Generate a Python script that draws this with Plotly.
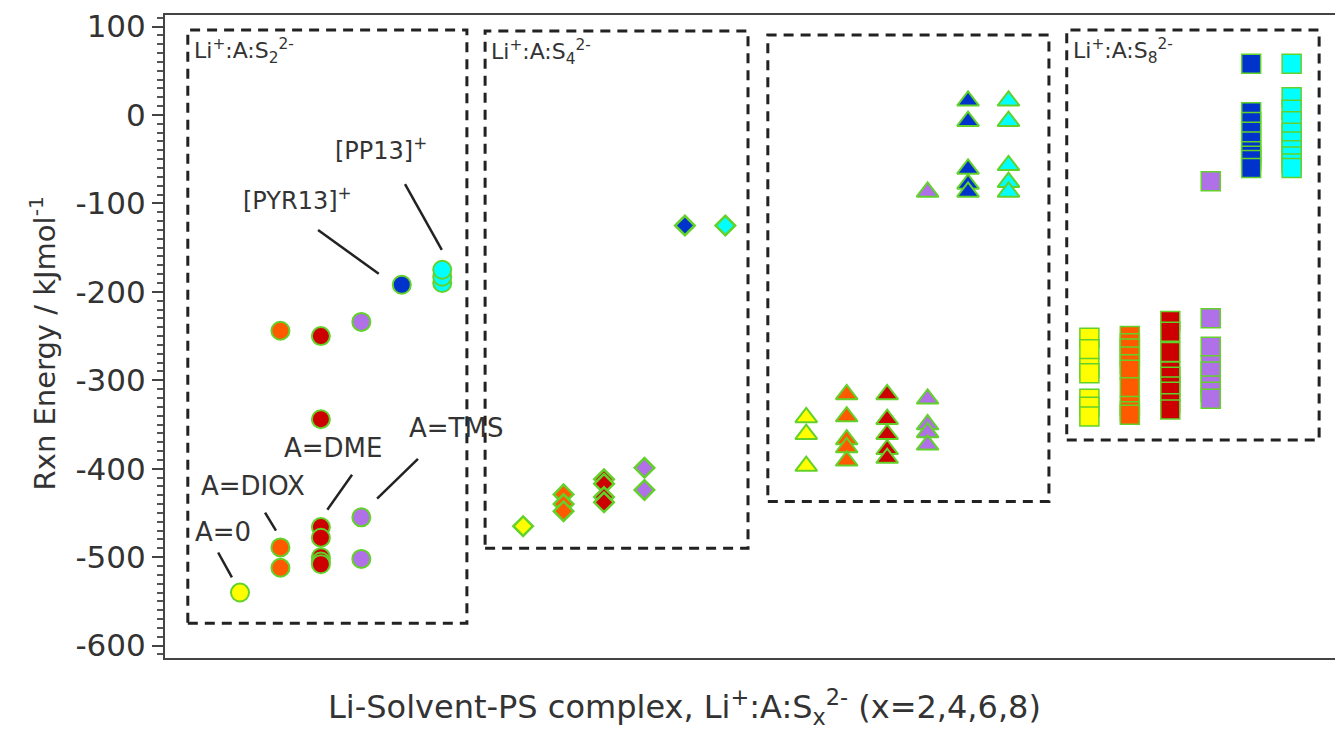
import plotly.graph_objects as go

# ---------------- data ----------------
groups = ["S2", "S4", "S6", "S8"]
solvents = ["A=0", "DIOX", "DME", "TMS", "PYR13", "PP13"]
solvent_colors = ["#ffff00", "#ff5a00", "#cc0000", "#b070e8", "#0033cc", "#00ffff"]
group_symbols = ["circle", "diamond", "triangle-up", "square"]
group_sizes = [18, 15, 19, 19]
group_line_w = [2, 2.5, 2, 1.5]

s2_a0 = [-540]
s2_diox = [-244, -489, -512]
s2_dme = [-250, -344, -466, -478, -500, -505, -508]
s2_tms = [-234, -455, -502]
s2_pyr13 = [-192]
s2_pp13 = [-190, -183, -175]

s4_a0 = [-465]
s4_diox = [-429, -440, -448]
s4_dme = [-412, -417, -432, -438]
s4_tms = [-399, -424]
s4_pyr13 = [-125]
s4_pp13 = [-125]

s6_a0 = [-342, -361, -397]
s6_diox = [-316, -341, -367, -376, -391]
s6_dme = [-316, -344, -361, -378, -388]
s6_tms = [-321, -350, -359, -373, -87]
s6_pyr13 = [16, -7, -61, -78, -87]
s6_pp13 = [16, -7, -57, -76, -87]

s8_a0 = [-252, -265, -286, -292, -321, -330, -341]
s8_diox = [-250, -258, -264, -273, -282, -288, -308, -329, -335, -339]
s8_dme = [-233, -245, -268, -290, -296, -307, -313, -326, -333]
s8_tms = [-230, -262, -283, -290, -306, -313, -321, -75]
s8_pyr13 = [58, 3, -8, -19, -30, -41, -46, -51, -60]
s8_pp13 = [58, 20, 6, -7, -20, -30, -40, -47, -55, -60]

values = [
    [s2_a0, s2_diox, s2_dme, s2_tms, s2_pyr13, s2_pp13],
    [s4_a0, s4_diox, s4_dme, s4_tms, s4_pyr13, s4_pp13],
    [s6_a0, s6_diox, s6_dme, s6_tms, s6_pyr13, s6_pp13],
    [s8_a0, s8_diox, s8_dme, s8_tms, s8_pyr13, s8_pp13],
]
group_step = 7  # category slots per group (6 solvents + gap)

box_labels = ["Li<sup>+</sup>:A:S<sub>2</sub><sup>2-</sup>",
              "Li<sup>+</sup>:A:S<sub>4</sub><sup>2-</sup>",
              "",
              "Li<sup>+</sup>:A:S<sub>8</sub><sup>2-</sup>"]

y_ticks = [100, 0, -100, -200, -300, -400, -500, -600]
y_ticktext = ["100", "0", "-100", "-200", "-300", "-400", "-500", "-600"]

# ---------------- figure ----------------
fig = go.Figure()
edge = "#62d22a"
for g, gname in enumerate(groups):
    for c, sname in enumerate(solvents):
        ys = values[g][c]
        fig.add_trace(go.Scatter(
            x=[g * group_step + c] * len(ys), y=ys, mode="markers",
            name=f"{gname} {sname}", showlegend=False,
            marker=dict(symbol=group_symbols[g], size=group_sizes[g],
                        color=solvent_colors[c],
                        line=dict(color=edge, width=group_line_w[g]))))

dash = dict(color="#222222", width=3, dash="10px,7px")
boxes = [(-1.29, 5.61, -574.6, 96), (6.06, 12.56, -490, 95),
         (13.05, 20.0, -437, 90.5), (20.44, 26.68, -367.5, 96)]
for (x0, x1, y0, y1), lab in zip(boxes, box_labels):
    fig.add_shape(type="rect", x0=x0, x1=x1, y0=y0, y1=y1,
                  line=dash, fillcolor="rgba(0,0,0,0)", layer="below")
    if lab:
        fig.add_annotation(x=x0 + 0.1, y=y1 - 24, text=lab, showarrow=False,
                           xanchor="left", yanchor="middle",
                           font=dict(size=22, color="#333333", family="DejaVu Sans"))

# callout labels + leader lines
callouts = [
    ("[PP13]<sup>+</sup>", 3.49, -39, 24, (4.08, -78.3, 4.99, -152.6)),
    ("[PYR13]<sup>+</sup>", 1.43, -95, 24, (1.93, -130.1, 3.43, -179.6)),
    ("A=DME", 2.30, -376, 26, (2.77, -406.9, 2.16, -446.3)),
    ("A=DIOX", 0.32, -420, 26, (0.62, -449.7, 0.89, -470.0)),
    ("A=0", -0.42, -471.6, 26, (-0.54, -494.7, -0.20, -522.8)),
    ("A=TMS", 5.34, -354, 26, (4.40, -388.9, 3.39, -433.9)),
]
for txt, tx, ty, fs, (lx0, ly0, lx1, ly1) in callouts:
    fig.add_annotation(x=tx, y=ty, text=txt, showarrow=False,
                       xanchor="center", yanchor="middle",
                       font=dict(size=fs, color="#333333", family="DejaVu Sans"))
    fig.add_shape(type="line", x0=lx0, y0=ly0, x1=lx1, y1=ly1,
                  line=dict(color="#222222", width=2.5))

# axis titles
fig.add_annotation(xref="paper", yref="paper", x=0.441, y=-0.076,
                   text="Li-Solvent-PS complex, Li<sup>+</sup>:A:S<sub>x</sub><sup>2-</sup> (x=2,4,6,8)",
                   showarrow=False, xanchor="center", yanchor="middle",
                   font=dict(size=32, color="#333333", family="DejaVu Sans"))
fig.add_annotation(xref="paper", yref="paper", x=-0.104, y=0.49,
                   text="Rxn Energy / kJmol<sup>-1</sup>", textangle=-90,
                   showarrow=False, xanchor="center", yanchor="middle",
                   font=dict(size=29, color="#333333", family="DejaVu Sans"))

# page body has an 8px margin: shrink the figure so the plot lands where the reference has it
fig.update_layout(
    width=1335, height=722,
    margin=dict(l=157, r=0, t=4, b=72),
    paper_bgcolor="white", plot_bgcolor="white",
    xaxis=dict(range=[-1.854, 27.27], showticklabels=False, ticks="",
               showgrid=False, zeroline=False, showline=True, mirror=True,
               linecolor="#444444", linewidth=2),
    yaxis=dict(range=[-614, 113], tickvals=y_ticks, ticktext=y_ticktext,
               ticks="outside", ticklen=11, tickwidth=2, tickcolor="#444444",
               ticklabeloverflow="allow",
               showgrid=False, zeroline=False, showline=True, mirror=False,
               linecolor="#444444", linewidth=2,
               tickfont=dict(size=31, color="#333333", family="DejaVu Sans"),
               minor=dict(dtick=10, ticks="outside", ticklen=6, tickwidth=1.5,
                          tickcolor="#555555", showgrid=False)),
)

fig.write_html("out.html")
